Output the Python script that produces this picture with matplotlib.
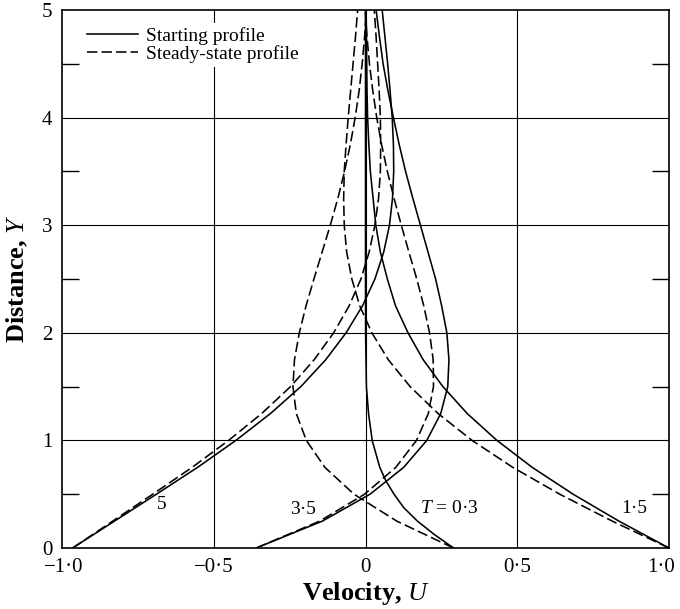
import matplotlib
matplotlib.use("Agg")
import matplotlib.pyplot as plt
import matplotlib.transforms as mtransforms
from matplotlib.lines import Line2D

plt.rcParams['font.family'] = ['Liberation Serif', 'DejaVu Serif']
plt.rcParams['mathtext.fontset'] = 'custom'
plt.rcParams['mathtext.rm'] = 'Liberation Serif'
plt.rcParams['mathtext.it'] = 'Liberation Serif:italic'
plt.rcParams['mathtext.bf'] = 'Liberation Serif:bold'

# distance values shared by most profiles
y_vals = [0, 0.25, 0.5, 0.75, 1.0, 1.25, 1.5, 1.75, 2.0, 2.25, 2.5,
          2.75, 3.0, 3.25, 3.5, 3.75, 4.0, 4.25, 4.5, 4.75, 5.0]

# steady-state profiles (dashed)
steady_03 = [0.29, 0.103, -0.038, -0.134, -0.195, -0.228, -0.239, -0.234, -0.218, -0.196, -0.170,
             -0.143, -0.116, -0.091, -0.069, -0.050, -0.034, -0.021, -0.011, -0.003, 0.003]
steady_15 = [1.0, 0.813, 0.640, 0.485, 0.351, 0.239, 0.147, 0.075, 0.021, -0.019, -0.045,
             -0.062, -0.070, -0.072, -0.070, -0.064, -0.057, -0.049, -0.041, -0.033, -0.026]
steady_35 = [-0.36, -0.151, -0.003, 0.100, 0.168, 0.207, 0.224, 0.223, 0.211, 0.192, 0.169,
             0.143, 0.118, 0.094, 0.072, 0.053, 0.037, 0.024, 0.013, 0.005, -0.001]
steady_5 = [-0.965, -0.833, -0.701, -0.571, -0.451, -0.342, -0.247, -0.169, -0.105, -0.054, -0.015,
            0.012, 0.031, 0.043, 0.049, 0.050, 0.049, 0.045, 0.040, 0.035, 0.029]

# starting profiles (solid)
start_15 = [1.0, 0.835, 0.684, 0.549, 0.433, 0.335, 0.255, 0.190, 0.140, 0.099, 0.072,
            0.049, 0.034, 0.025, 0.016, 0.011, 0.007, 0.005, 0.004, 0.003, 0.002]
start_35 = [-0.36, -0.142, 0.015, 0.126, 0.202, 0.248, 0.271, 0.275, 0.268, 0.251, 0.231,
            0.206, 0.181, 0.156, 0.132, 0.111, 0.092, 0.074, 0.058, 0.046, 0.035]
start_5 = [-0.965, -0.827, -0.689, -0.553, -0.427, -0.313, -0.213, -0.131, -0.064, -0.010, 0.031,
           0.060, 0.079, 0.089, 0.093, 0.092, 0.088, 0.081, 0.073, 0.064, 0.055]

# T = 0.3 starting profile needs finer spacing near the wall
y_03 = [0, 0.125, 0.25, 0.375, 0.5, 0.625, 0.75, 1.0, 1.25, 1.5, 2.0, 2.5, 5.0]
start_03 = [0.29, 0.227, 0.171, 0.126, 0.094, 0.067, 0.047, 0.022, 0.010, 0.003, 0.0003, 0.0, 0.0]

curve_labels = ['5', '3·5', '$T$ = 0·3', '1·5']
label_u = [-0.672, -0.206, 0.276, 0.885]
label_y = [0.40, 0.36, 0.37, 0.37]

x_ticks = [-1.0, -0.5, 0, 0.5, 1.0]
x_ticklabels = ['\u22121·0', '\u22120·5', '0', '0·5', '1·0']
y_ticks = [0, 1, 2, 3, 4, 5]

fig = plt.figure(figsize=(6.8, 6.09), dpi=100)
ax = fig.add_axes([62 / 680, 61 / 609, 607 / 680, 538 / 609])

lw = 1.15
dash = (6.5, 2.6)
for u in [start_15, start_35, start_5]:
    ax.plot(u, y_vals, color='black', lw=lw, zorder=3)
ax.plot(start_03, y_03, color='black', lw=lw, zorder=3)
for u in [steady_03, steady_15, steady_35, steady_5]:
    ax.plot(u, y_vals, color='black', lw=lw, dashes=dash, zorder=3)

for txt, u, y in zip(curve_labels, label_u, label_y):
    ax.text(u, y, txt, ha='center', va='center', fontsize=14, zorder=4)

ax.set_xlim(-1.0, 1.0)
ax.set_ylim(0, 5)

# grid lines at the integer / half-unit positions
for yy in [1, 2, 3, 4]:
    ax.axhline(yy, color='black', lw=0.8, zorder=1)
for xx in [-0.5, 0, 0.5]:
    ax.axvline(xx, color='black', lw=0.8, zorder=1)

ax.set_xticks(x_ticks)
ax.set_xticklabels(x_ticklabels)
ax.set_yticks(y_ticks)
ax.set_yticklabels([str(v) for v in y_ticks])
ax.set_yticks([0.5, 1.5, 2.5, 3.5, 4.5], minor=True)
ax.tick_params(axis='both', which='major', length=0, labelsize=15)
ax.tick_params(axis='x', which='major', pad=7)
ax.tick_params(axis='y', which='major', pad=7)
ax.tick_params(axis='y', which='minor', direction='in', length=12, width=1.0,
               left=True, right=True)
for sp in ax.spines.values():
    sp.set_linewidth(1.2)

# the end labels sit slightly inside the frame in the original
xlabels = ax.get_xticklabels()
xlabels[-1].set_transform(xlabels[-1].get_transform() +
                          mtransforms.ScaledTranslation(-8 / 100, 0, fig.dpi_scale_trans))
xlabels[0].set_transform(xlabels[0].get_transform() +
                         mtransforms.ScaledTranslation(2 / 100, 0, fig.dpi_scale_trans))

ax.set_xlabel('Velocity, $\\mathit{U}$', fontsize=19, fontweight='bold')
ax.set_ylabel('Distance, $\\mathit{Y}$', fontsize=19, fontweight='bold')
ax.xaxis.set_label_coords(0.5, -0.06)
ax.yaxis.set_label_coords(-0.052, 0.5)

handles = [Line2D([], [], color='black', lw=lw),
           Line2D([], [], color='black', lw=lw, dashes=dash)]
leg = ax.legend(handles, ['Starting profile', 'Steady-state profile'],
                loc='upper left', bbox_to_anchor=(0.035, 0.975), fontsize=14,
                frameon=True, fancybox=False, edgecolor='none', facecolor='white',
                framealpha=1, handlelength=2.6, handletextpad=0.45,
                labelspacing=0.0, borderpad=0.2, borderaxespad=0)
leg.set_zorder(5)

fig.savefig('out.png', dpi=100)
